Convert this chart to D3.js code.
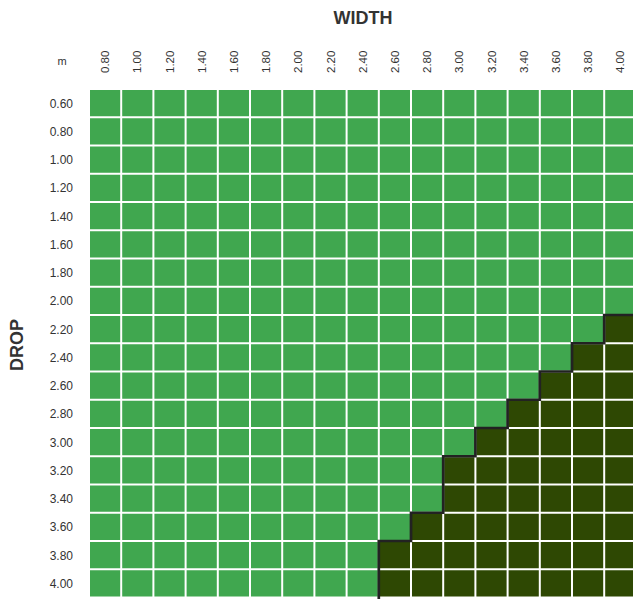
<!DOCTYPE html>
<html>
<head>
<meta charset="utf-8">
<script src="https://cdn.jsdelivr.net/npm/d3@7"></script>
<style>
  html, body { margin: 0; padding: 0; background: #fff; overflow: hidden; }
  text { font-family: "Liberation Sans", Arial, sans-serif; fill: #333; }
</style>
</head>
<body>
<svg id="chart" width="633" height="599"></svg>
<script>
// Widths (columns) and drops (rows), in metres
const widths = ["0.80","1.00","1.20","1.40","1.60","1.80","2.00","2.20","2.40","2.60","2.80","3.00","3.20","3.40","3.60","3.80","4.00"];
const drops  = ["0.60","0.80","1.00","1.20","1.40","1.60","1.80","2.00","2.20","2.40","2.60","2.80","3.00","3.20","3.40","3.60","3.80","4.00"];
// Smallest width from which each drop falls into the dark (restricted) zone; null = none
const darkFromWidth = [null,null,null,null,null,null,null,null,"4.00","3.80","3.60","3.40","3.20","3.00","3.00","2.80","2.60","2.60"];
const colors = { ok: "#40a74f", restricted: "#2e4803", edge: "#222222" };
const titles = { x: "WIDTH", y: "DROP", unit: "m" };

const svg = d3.select("#chart");
const x = d3.scaleBand().domain(widths).range([89, 89 + 17 * 32.2]);
const y = d3.scaleBand().domain(drops).range([89, 89 + 18 * 28.25]);

const cells = [];
drops.forEach((d, i) => {
  const lim = darkFromWidth[i];
  widths.forEach(w => {
    const dark = lim !== null && +w >= +lim;
    cells.push({ w, d, dark });
  });
});

svg.append("g").selectAll("rect").data(cells).join("rect")
  .attr("x", c => x(c.w) + 1)
  .attr("y", c => y(c.d) + 1)
  .attr("width", x.bandwidth() - 2)
  .attr("height", y.bandwidth() - 2)
  .attr("fill", c => c.dark ? colors.restricted : colors.ok);

// staircase boundary
const pts = [];
const darkRows = drops.map((d, i) => ({ d, lim: darkFromWidth[i] })).filter(r => r.lim !== null);
pts.push([x.range()[1] + 5, y(darkRows[0].d)]);
darkRows.forEach(r => {
  pts.push([x(r.lim), y(r.d)]);
  pts.push([x(r.lim), y(r.d) + y.bandwidth()]);
});
pts[pts.length - 1][1] += 5;
svg.append("path")
  .attr("d", d3.line()(pts))
  .attr("fill", "none")
  .attr("stroke", colors.edge)
  .attr("stroke-width", 2.7);

// column labels
svg.append("g").selectAll("text").data(widths).join("text")
  .attr("transform", w => `translate(${x(w) + x.bandwidth() / 2 + 4},73) rotate(-90)`)
  .attr("text-anchor", "start")
  .attr("font-size", 11.5)
  .text(w => w);

// row labels
svg.append("g").selectAll("text").data(drops).join("text")
  .attr("x", 73)
  .attr("y", d => y(d) + y.bandwidth() / 2 + 4.5)
  .attr("text-anchor", "end")
  .attr("font-size", 12)
  .text(d => d);

svg.append("text").attr("x", 62).attr("y", 65).attr("text-anchor", "middle")
  .attr("font-size", 11).text(titles.unit);

svg.append("text").attr("x", 363).attr("y", 24).attr("text-anchor", "middle")
  .attr("font-size", 18).attr("font-weight", "bold").text(titles.x);

svg.append("text").attr("transform", "translate(23,345) rotate(-90)")
  .attr("text-anchor", "middle")
  .attr("font-size", 18).attr("font-weight", "bold").text(titles.y);
</script>
</body>
</html>
